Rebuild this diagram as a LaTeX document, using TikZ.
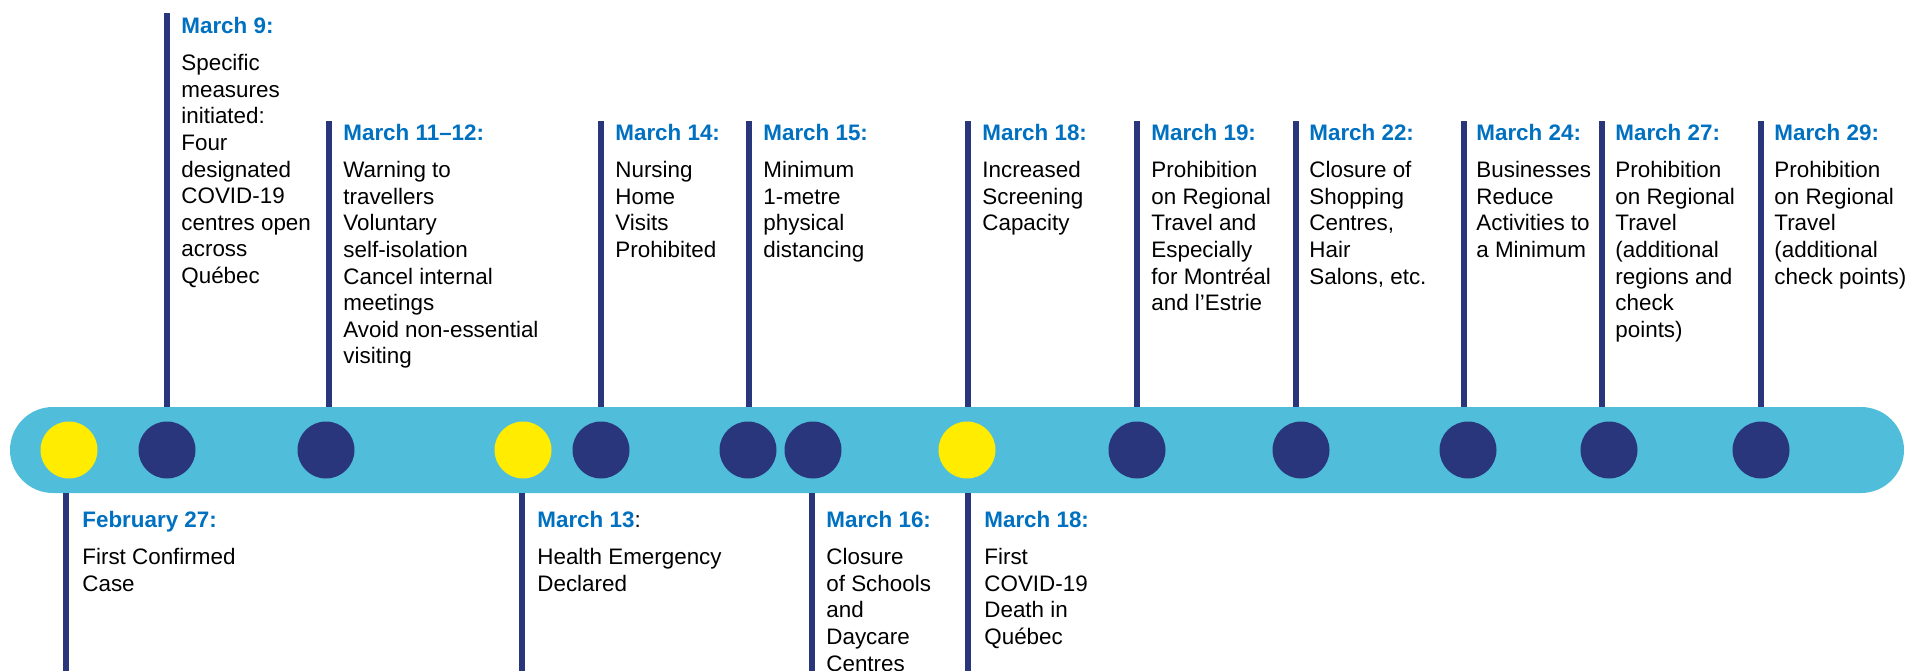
\documentclass[tikz,border=0pt]{standalone}
\usepackage{fontspec}
\setmainfont{Liberation Sans}

\definecolor{barblue}{HTML}{50BEDA}
\definecolor{navy}{HTML}{29367B}
\definecolor{dotyellow}{HTML}{FFEC00}
\definecolor{dateblue}{HTML}{0070C0}
\newcommand{\datetitle}[1]{\textcolor{dateblue}{\bfseries #1}}

\begin{document}
\begin{tikzpicture}[x=0.5pt, y=-0.5pt]
    \tikzset{
        barstyle/.style={fill=barblue, rounded corners=21.5pt, minimum width=947pt, minimum height=43pt, inner sep=0pt},
        dotstyle/.style={circle, minimum size=28.5pt, inner sep=0pt},
        rulestyle/.style={navy, line width=3pt},
        eventtext/.style={anchor=north west, inner sep=0pt, align=left, font=\fontsize{11.2}{13.3}\selectfont}
    }
    \useasboundingbox (0,0) rectangle (1906,670);
    \clip (0,0) rectangle (1906,670);

    % --- BARRE ---
    \node[barstyle] (bar) at (957,450) {};

    % points (jaune = cas / urgence / deces)
    \foreach \x/\c/\n in {69/dotyellow/dot1, 167/navy/dot2, 326/navy/dot3,
                          523/dotyellow/dot4, 601/navy/dot5, 748/navy/dot6,
                          813/navy/dot7, 967/dotyellow/dot8, 1137/navy/dot9,
                          1301/navy/dot10, 1468/navy/dot11, 1609/navy/dot12,
                          1761/navy/dot13} {
        \node[dotstyle, fill=\c] (\n) at (\x,450) {};
    }

    % --- EN HAUT ---
    \coordinate (mar9top) at (167,13);
    \coordinate (mar1112top) at (329,121);
    \coordinate (mar14top) at (601,121);
    \coordinate (mar15top) at (749,121);
    \coordinate (mar18top) at (968,121);
    \coordinate (mar19top) at (1137,121);
    \coordinate (mar22top) at (1296,121);
    \coordinate (mar24top) at (1464,121);
    \coordinate (mar27top) at (1602,121);
    \coordinate (mar29top) at (1761,121);
    \foreach \r in {mar9top, mar1112top, mar14top, mar15top, mar18top,
                    mar19top, mar22top, mar24top, mar27top, mar29top} {
        \draw[rulestyle] (\r) -- (\r |- bar.north);
    }

    \node[eventtext] (mar9) at (181,17) {\datetitle{March 9:}\\[5.2pt]
        Specific\\measures\\initiated:\\Four\\designated\\COVID-19\\centres open\\across\\Québec};
    \node[eventtext] (mar1112) at (343,124) {\datetitle{March 11–12:}\\[5.2pt]
        Warning to\\travellers\\Voluntary\\self-isolation\\Cancel internal\\meetings\\Avoid non-essential\\visiting};
    \node[eventtext] (mar14) at (615,124) {\datetitle{March 14:}\\[5.2pt]
        Nursing\\Home\\Visits\\Prohibited};
    \node[eventtext] (mar15) at (763,124) {\datetitle{March 15:}\\[5.2pt]
        Minimum\\1-metre\\physical\\distancing};
    \node[eventtext] (mar18) at (982,124) {\datetitle{March 18:}\\[5.2pt]
        Increased\\Screening\\Capacity};
    \node[eventtext] (mar19) at (1151,124) {\datetitle{March 19:}\\[5.2pt]
        Prohibition\\on Regional\\Travel and\\Especially\\for Montréal\\and l’Estrie};
    \node[eventtext] (mar22) at (1309,124) {\datetitle{March 22:}\\[5.2pt]
        Closure of\\Shopping\\Centres,\\Hair\\Salons, etc.};
    \node[eventtext] (mar24) at (1476,124) {\datetitle{March 24:}\\[5.2pt]
        Businesses\\Reduce\\Activities to\\a Minimum};
    \node[eventtext] (mar27) at (1615,124) {\datetitle{March 27:}\\[5.2pt]
        Prohibition\\on Regional\\Travel\\(additional\\regions and\\check\\points)};
    \node[eventtext] (mar29) at (1774,124) {\datetitle{March 29:}\\[5.2pt]
        Prohibition\\on Regional\\Travel\\(additional\\check points)};

    % --- EN BAS ---
    \coordinate (feb27bot) at (66,672);
    \coordinate (mar13bot) at (522,672);
    \coordinate (mar16bot) at (812,672);
    \coordinate (mar18bbot) at (968,672);
    \foreach \r in {feb27bot, mar13bot, mar16bot, mar18bbot} {
        \draw[rulestyle] (\r) -- (\r |- bar.south);
    }

    \node[eventtext] (feb27) at (82,511) {\datetitle{February 27:}\\[5.2pt]
        First Confirmed\\Case};
    \node[eventtext] (mar13) at (537,511) {\datetitle{March 13}:\\[5.2pt]
        Health Emergency\\Declared};
    \node[eventtext] (mar16) at (826,511) {\datetitle{March 16:}\\[5.2pt]
        Closure\\of Schools\\and\\Daycare\\Centres};
    \node[eventtext] (mar18b) at (984,511) {\datetitle{March 18:}\\[5.2pt]
        First\\COVID-19\\Death in\\Québec};

\end{tikzpicture}
\end{document}
